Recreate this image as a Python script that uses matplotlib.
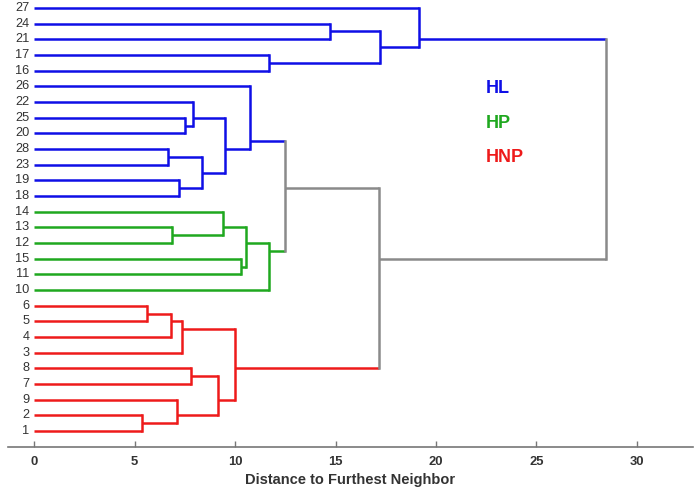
#!/usr/bin/env python3
"""Furthest-neighbour dendrogram of 28 samples, three groups (HL, HP, HNP)."""

import matplotlib
matplotlib.use("Agg")
import matplotlib.pyplot as plt

# leaves from top to bottom, as shown
leaf_order = [27, 24, 21, 17, 16, 26, 22, 25, 20, 28, 23, 19, 18,
              14, 13, 12, 15, 11, 10, 6, 5, 4, 3, 8, 7, 9, 2, 1]

group_names = ["HL", "HP", "HNP"]
group_leaves = {
    "HL": [16, 17, 18, 19, 20, 21, 22, 23, 24, 25, 26, 27, 28],
    "HP": [10, 11, 12, 13, 14, 15],
    "HNP": [1, 2, 3, 4, 5, 6, 7, 8, 9],
}
group_colors = {"HL": "#0f0fe6", "HP": "#1fa81f", "HNP": "#ee1a1a"}
mixed_color = "#8a8a8a"

# merges: (child a, child b, distance); "mN" refers to the N-th merge
merges = [
    (24, 21, 14.70),      # m0
    (17, 16, 11.67),      # m1
    ("m0", "m1", 17.19),  # m2
    (27, "m2", 19.15),    # m3
    (25, 20, 7.49),       # m4
    (22, "m4", 7.92),     # m5
    (28, 23, 6.64),       # m6
    (19, 18, 7.22),       # m7
    ("m6", "m7", 8.35),   # m8
    ("m5", "m8", 9.52),   # m9
    (26, "m9", 10.75),    # m10
    (13, 12, 6.86),       # m11
    (14, "m11", 9.42),    # m12
    (15, 11, 10.28),      # m13
    ("m12", "m13", 10.55),  # m14
    ("m14", 10, 11.67),   # m15
    ("m10", "m15", 12.49),  # m16
    (6, 5, 5.61),         # m17
    ("m17", 4, 6.83),     # m18
    ("m18", 3, 7.34),     # m19
    (8, 7, 7.81),         # m20
    (2, 1, 5.36),         # m21
    (9, "m21", 7.09),     # m22
    ("m20", "m22", 9.17),  # m23
    ("m19", "m23", 10.01),  # m24
    ("m16", "m24", 17.16),  # m25
    ("m3", "m25", 28.48),   # m26
]

x_ticks = [0, 5, 10, 15, 20, 25, 30]
x_label = "Distance to Furthest Neighbor"


def main():
    plt.rcParams["font.family"] = ["Liberation Sans", "DejaVu Sans"]
    n = len(leaf_order)
    leaf_group = {lf: g for g, lst in group_leaves.items() for lf in lst}

    # node info: leaves list, height, y position
    nodes = {}
    for i, lf in enumerate(leaf_order):
        nodes[lf] = {"leaves": [lf], "h": 0.0, "y": n - 1 - i}

    def color_of(leaves):
        gs = {leaf_group[lf] for lf in leaves}
        return group_colors[gs.pop()] if len(gs) == 1 else mixed_color

    fig = plt.figure(figsize=(6.96, 4.88), dpi=100)
    ax = fig.add_axes([8 / 696, 41.3 / 488, 685 / 696, 446.7 / 488])

    lw = 1.8
    for k, (a, b, h) in enumerate(merges):
        na, nb = nodes[a], nodes[b]
        leaves = na["leaves"] + nb["leaves"]
        ys = [nodes[lf]["y"] for lf in leaves]
        y = sum(ys) / len(ys)
        for ch in (na, nb):
            ax.plot([ch["h"], h], [ch["y"], ch["y"]], color=color_of(ch["leaves"]),
                    lw=lw, solid_capstyle="butt")
        ax.plot([h, h], [na["y"], nb["y"]], color=color_of(leaves), lw=lw,
                solid_capstyle="projecting")
        nodes["m%d" % k] = {"leaves": leaves, "h": h, "y": y}

    for i, lf in enumerate(leaf_order):
        ax.text(-0.24, n - 1 - i, str(lf), ha="right", va="center",
                fontsize=9.2, color="#333333")

    for j, g in enumerate(group_names):
        ax.text(22.5, 21.84 - 2.2 * j, g, ha="left", va="center",
                fontsize=13, fontweight="bold", color=group_colors[g])

    ax.set_xlim(-1.31, 32.8)
    ax.set_ylim(-1.0, 27.51)
    ax.set_xticks(x_ticks)
    ax.set_yticks([])
    for s in ("top", "right", "left"):
        ax.spines[s].set_visible(False)
    ax.spines["bottom"].set_color("#777777")
    ax.spines["bottom"].set_linewidth(1.2)
    ax.tick_params(axis="x", direction="in", length=4.2, width=1.0,
                   color="#777777", labelsize=9.4, labelcolor="#333333", pad=6.5)
    for t in ax.get_xticklabels():
        t.set_fontweight("bold")
    ax.set_xlabel(x_label, fontsize=10.5, fontweight="bold", color="#333333",
                  labelpad=4)
    ax.patch.set_visible(False)

    fig.savefig("out.png", dpi=100)


if __name__ == "__main__":
    main()
